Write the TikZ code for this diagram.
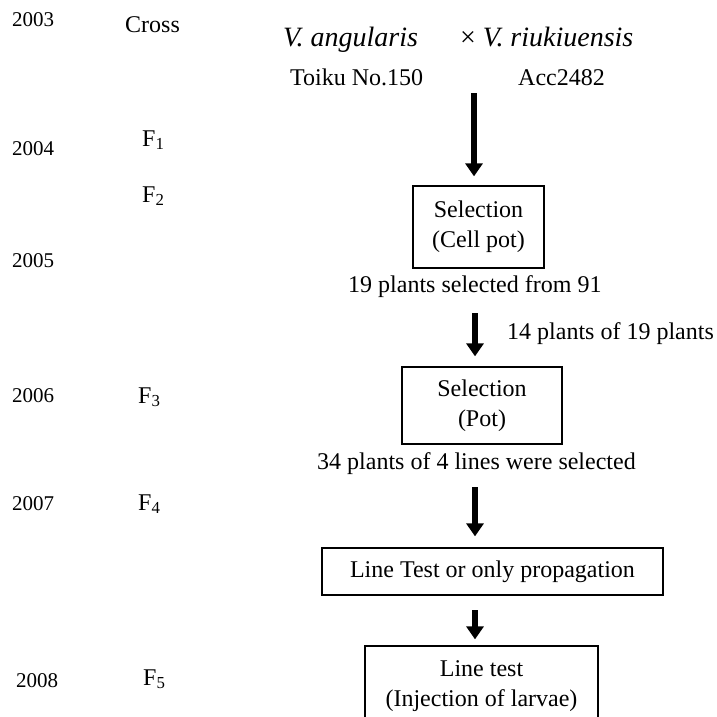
\documentclass[tikz,border=0pt]{standalone}
\usepackage{fontspec}
\setmainfont{Liberation Serif}
\usetikzlibrary{arrows.meta}
\newcommand{\yearfont}{\fontsize{21}{24}\selectfont}
\newcommand{\boxfont}{\fontsize{24}{30}\selectfont}
\newcommand{\crossfont}{\fontsize{28}{32}\selectfont}
\begin{document}
\begin{tikzpicture}[x=1pt, y=-1pt, font=\boxfont]
	\tikzstyle{place}=[rectangle, draw=black, line width=1.3pt, align=center, inner sep=0pt]
	\tikzstyle{lbl}=[anchor=base west, inner sep=0pt]
	\tikzstyle{yr}=[lbl, font=\yearfont]
	\tikzstyle{big}=[line width=5.5pt, -{Triangle[width=17pt, length=13pt]}]
	\useasboundingbox (0, 0) rectangle (717, 717);
	\clip (0, 0) rectangle (717, 717);
	
	\draw node[yr] at (12, 27) (y2003) {2003};
	\draw node[yr] at (12, 155) (y2004) {2004};
	\draw node[yr] at (12, 267) (y2005) {2005};
	\draw node[yr] at (12, 402) (y2006) {2006};
	\draw node[yr] at (12, 510) (y2007) {2007};
	\draw node[yr] at (16, 687) (y2008) {2008};
	
	\draw node[lbl] at (125, 33) (cross) {Cross};
	\draw node[lbl] at (142, 146) (f1) {F\textsubscript{1}};
	\draw node[lbl] at (142, 202) (f2) {F\textsubscript{2}};
	\draw node[lbl] at (138, 403) (f3) {F\textsubscript{3}};
	\draw node[lbl] at (138, 510) (f4) {F\textsubscript{4}};
	\draw node[lbl] at (143, 685) (f5) {F\textsubscript{5}};
	
	\draw node[lbl, font=\crossfont] at (283, 47) (mother) {\textit{V. angularis}};
	\draw node[lbl, font=\crossfont] at (460, 47) (father) {× \textit{V. riukiuensis}};
	\draw node[lbl] at (290, 85) (toiku) {Toiku No.150};
	\draw node[lbl] at (518, 85) (acc) {Acc2482};
	
	\draw node[place, minimum width=131, minimum height=82] at (478.5, 227) (sel1) {Selection\\(Cell pot)};
	\draw node[lbl] at (348, 292) (n19) {19 plants selected from 91};
	\draw node[lbl] at (507, 339) (n14) {14 plants of 19 plants};
	\draw node[place, minimum width=160, minimum height=77] at (482, 405.5) (sel2) {Selection\\(Pot)};
	\draw node[lbl] at (317, 469) (n34) {34 plants of 4 lines were selected};
	\draw node[place, minimum width=341, minimum height=47] at (492.5, 571.5) (prop) {Line Test or only propagation};
	\draw node[place, minimum width=233, minimum height=80] at (481.5, 686) (test) {Line test\\(Injection of larvae)};
	
	\coordinate (a1) at (474, 93);
	\coordinate (a2) at (475, 313);
	\coordinate (a3) at (475, 487);
	\coordinate (a4) at (475, 610);
	\draw [big, shorten >=9pt]  (a1) -- (a1 |- sel1.north);
	\draw [big, shorten >=10pt] (a2) -- (a2 |- sel2.north);
	\draw [big, shorten >=11pt] (a3) -- (a3 |- prop.north);
	\draw [big, shorten >=6pt]  (a4) -- (a4 |- test.north);
\end{tikzpicture}
\end{document}
